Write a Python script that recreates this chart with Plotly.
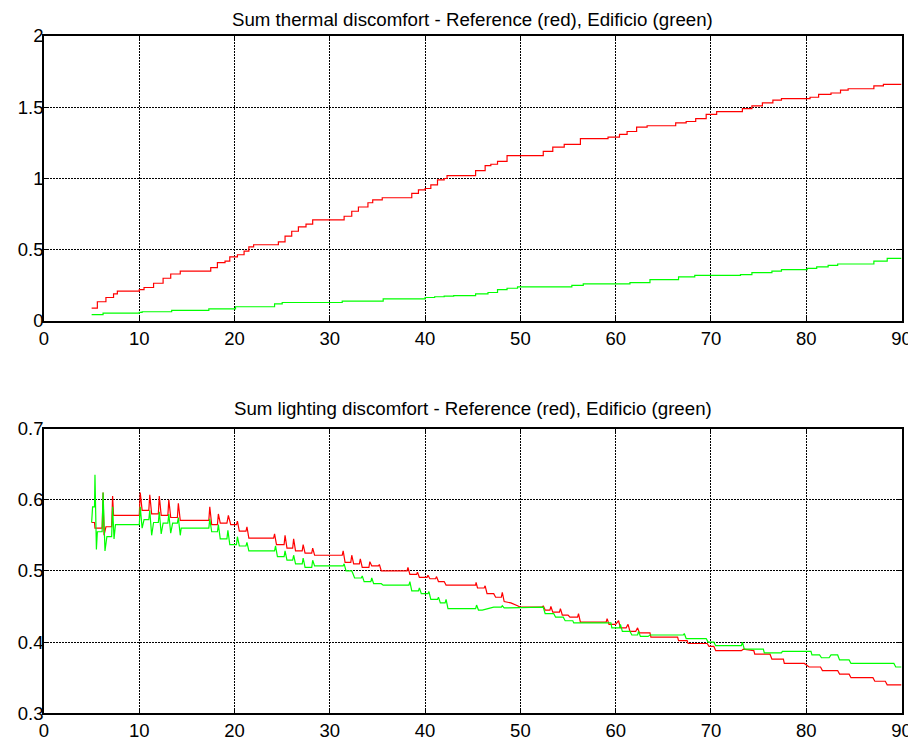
import plotly.graph_objects as go

# ---------------- data: top (thermal discomfort, cumulative steps) ----------------
thermal_ref_x = [5.0, 5.6, 6.5, 7.3, 7.7, 10.0, 10.5, 11.5, 12.5, 13.3, 14.3, 17.5, 18.2, 19.0, 19.5,
                 20.3, 21.0, 21.5, 22.0, 24.6, 25.3, 26.0, 26.7, 27.5, 28.2, 31.5, 32.3, 33.0, 34.0,
                 34.5, 35.5, 38.6, 39.3, 40.0, 40.6, 41.3, 42.0, 42.3, 45.3, 46.3, 46.9, 47.6, 48.6,
                 52.4, 53.4, 54.6, 56.3, 59.2, 60.4, 61.2, 62.2, 63.3, 66.3, 67.4, 68.4, 69.5, 70.6,
                 73.3, 74.3, 75.4, 76.5, 77.4, 80.4, 81.3, 82.6, 83.6, 84.4, 87.1, 88.1, 90.0]
thermal_ref_y = [0.09, 0.135, 0.165, 0.19, 0.21, 0.22, 0.235, 0.265, 0.30, 0.33, 0.35, 0.375, 0.41, 0.42, 0.45,
                 0.465, 0.49, 0.52, 0.535, 0.555, 0.595, 0.63, 0.66, 0.68, 0.71, 0.735, 0.77, 0.80, 0.83,
                 0.85, 0.865, 0.895, 0.92, 0.93, 0.955, 0.99, 1.0, 1.02, 1.055, 1.09, 1.10, 1.12, 1.16,
                 1.19, 1.22, 1.24, 1.28, 1.29, 1.31, 1.33, 1.36, 1.37, 1.39, 1.40, 1.42, 1.45, 1.47,
                 1.49, 1.51, 1.53, 1.55, 1.56, 1.57, 1.59, 1.60, 1.62, 1.63, 1.65, 1.66, 1.66]

thermal_bld_x = [5.0, 6.2, 10.0, 10.3, 13.4, 17.3, 20.1, 24.2, 25.0, 31.3, 35.6, 40.0, 41.0, 42.0, 43.0,
                 45.3, 46.6, 47.6, 48.6, 49.7, 55.4, 56.6, 61.5, 63.6, 66.6, 68.3, 73.1, 74.3, 76.4,
                 77.4, 80.1, 81.1, 82.3, 83.3, 87.1, 88.5, 90.0]
thermal_bld_y = [0.045, 0.055, 0.06, 0.065, 0.075, 0.085, 0.10, 0.12, 0.13, 0.14, 0.155, 0.165, 0.17, 0.175, 0.178,
                 0.19, 0.20, 0.22, 0.23, 0.24, 0.25, 0.26, 0.27, 0.29, 0.31, 0.32, 0.325, 0.34, 0.35,
                 0.36, 0.37, 0.38, 0.39, 0.40, 0.42, 0.44, 0.44]

# ---------------- data: bottom (lighting discomfort) ----------------
light_ref_x = [5.0, 5.3, 5.35, 6.1, 6.2, 6.3, 6.5, 7.1, 7.2, 7.3, 10.0, 10.1, 10.3, 11.0, 11.1, 11.3,
               12.0, 12.1, 12.3, 13.0, 13.1, 13.3, 14.0, 14.1, 14.3, 17.3, 17.4, 17.6, 18.2, 18.3, 18.5,
               19.2, 19.35, 19.6, 20.2, 20.3, 20.5, 21.2, 21.3, 21.5, 24.1, 24.2, 24.4, 25.2, 25.3, 25.5,
               26.1, 26.2, 26.4, 27.1, 27.2, 27.4, 28.1, 28.2, 28.4, 31.3, 31.4, 31.6, 32.2, 32.3, 32.5,
               33.1, 33.2, 33.4, 34.1, 34.2, 34.4, 35.1, 35.2, 35.4, 38.1, 38.2, 38.4, 39.1, 39.2, 39.4,
               40.2, 40.3, 40.5, 41.1, 41.2, 41.4, 42.0, 42.2, 45.3, 45.35, 45.5, 46.2, 46.3, 46.5, 47.2,
               47.4, 48.0, 48.1, 48.3, 49.0, 49.7, 50.0, 52.3, 52.4, 52.6, 53.1, 53.2, 53.4, 54.1, 54.2,
               54.4, 55.0, 55.2, 56.0, 56.1, 56.3, 59.0, 59.1, 59.3, 60.0, 60.3, 60.5, 61.1, 61.3, 61.5,
               62.1, 62.3, 62.5, 63.6, 63.7, 66.5, 66.6, 67.5, 67.6, 69.6, 69.8, 70.3, 70.5, 73.2, 73.4,
               74.5, 74.6, 76.2, 76.4, 77.6, 77.7, 79.8, 80.3, 81.5, 81.7, 83.3, 83.5, 84.5, 84.7, 87.0,
               87.2, 88.3, 88.5, 90.0]
light_ref_y = [0.568, 0.568, 0.56, 0.56, 0.61, 0.55, 0.562, 0.562, 0.605, 0.578, 0.578, 0.61, 0.585, 0.585, 0.607, 0.58,
               0.58, 0.605, 0.578, 0.578, 0.60, 0.575, 0.575, 0.595, 0.571, 0.571, 0.59, 0.565, 0.565, 0.58, 0.567,
               0.567, 0.578, 0.565, 0.565, 0.570, 0.556, 0.556, 0.562, 0.546, 0.546, 0.552, 0.537, 0.537, 0.550, 0.532,
               0.532, 0.545, 0.528, 0.528, 0.537, 0.525, 0.525, 0.532, 0.522, 0.522, 0.528, 0.512, 0.512, 0.522, 0.51,
               0.51, 0.517, 0.505, 0.505, 0.513, 0.507, 0.507, 0.509, 0.50, 0.50, 0.505, 0.495, 0.495, 0.498, 0.491,
               0.491, 0.494, 0.489, 0.489, 0.492, 0.485, 0.485, 0.48, 0.48, 0.484, 0.476, 0.476, 0.479, 0.468, 0.468,
               0.463, 0.463, 0.47, 0.457, 0.455, 0.451, 0.449, 0.449, 0.451, 0.445, 0.445, 0.45, 0.442, 0.442, 0.447,
               0.438, 0.438, 0.435, 0.435, 0.44, 0.428, 0.428, 0.433, 0.425, 0.425, 0.43, 0.42, 0.42, 0.425, 0.415,
               0.415, 0.42, 0.413, 0.413, 0.407, 0.407, 0.402, 0.402, 0.398, 0.398, 0.394, 0.394, 0.388, 0.388, 0.39,
               0.388, 0.383, 0.383, 0.376, 0.376, 0.37, 0.37, 0.365, 0.365, 0.36, 0.36, 0.355, 0.355, 0.35, 0.35,
               0.345, 0.345, 0.34, 0.34]

light_bld_x = [5.0, 5.1, 5.3, 5.35, 5.5, 5.6, 6.1, 6.2, 6.4, 6.6, 7.1, 7.2, 7.35, 7.5, 10.0, 10.1, 10.3, 10.5,
               11.0, 11.1, 11.3, 11.5, 12.0, 12.1, 12.3, 12.5, 13.0, 13.1, 13.3, 13.5, 14.0, 14.1, 14.3, 14.4,
               17.3, 17.4, 17.6, 18.2, 18.3, 18.5, 19.2, 19.3, 19.5, 20.2, 20.3, 20.5, 21.2, 21.3, 21.5,
               24.2, 24.3, 24.5, 25.2, 25.3, 25.5, 26.1, 26.2, 26.4, 27.1, 27.2, 27.4, 28.1, 28.2, 28.4,
               31.4, 31.5, 31.7, 32.3, 32.4, 32.6, 33.3, 33.4, 33.6, 34.3, 34.4, 34.6, 35.4, 35.6, 38.3,
               38.4, 38.6, 39.3, 39.4, 39.6, 40.3, 40.4, 40.6, 41.3, 41.4, 41.6, 42.1, 42.2, 42.4, 45.3,
               45.4, 45.6, 46.0, 46.5, 47.2, 48.0, 48.1, 48.3, 52.3, 52.4, 52.6, 53.5, 53.7, 54.5, 54.7,
               55.5, 55.6, 59.5, 59.6, 60.4, 60.5, 60.7, 61.5, 61.7, 62.3, 62.4, 62.6, 63.4, 63.6, 67.1,
               67.2, 67.4, 69.5, 69.7, 70.3, 70.5, 73.2, 73.3, 73.5, 75.5, 75.6, 77.4, 77.5, 80.5, 80.6,
               81.4, 81.6, 82.4, 82.6, 83.3, 83.5, 84.5, 84.7, 89.2, 89.4, 90.0]
light_bld_y = [0.568, 0.59, 0.59, 0.635, 0.53, 0.555, 0.555, 0.61, 0.528, 0.548, 0.548, 0.59, 0.545, 0.565, 0.565, 0.59, 0.56, 0.572,
               0.572, 0.585, 0.55, 0.568, 0.568, 0.583, 0.552, 0.567, 0.567, 0.58, 0.553, 0.567, 0.567, 0.575, 0.55, 0.56,
               0.56, 0.573, 0.555, 0.555, 0.565, 0.545, 0.545, 0.557, 0.537, 0.537, 0.548, 0.535, 0.535, 0.54, 0.528,
               0.528, 0.535, 0.52, 0.52, 0.528, 0.515, 0.515, 0.522, 0.51, 0.51, 0.518, 0.505, 0.505, 0.515, 0.507,
               0.507, 0.51, 0.50, 0.50, 0.497, 0.49, 0.49, 0.493, 0.485, 0.485, 0.49, 0.482, 0.482, 0.48, 0.48,
               0.485, 0.472, 0.472, 0.476, 0.468, 0.468, 0.471, 0.46, 0.46, 0.463, 0.455, 0.455, 0.46, 0.447, 0.447,
               0.452, 0.445, 0.445, 0.447, 0.449, 0.449, 0.451, 0.448, 0.448, 0.449, 0.44, 0.44, 0.435, 0.435, 0.43,
               0.43, 0.427, 0.427, 0.42, 0.42, 0.425, 0.415, 0.415, 0.41, 0.41, 0.415, 0.408, 0.408, 0.41, 0.41,
               0.412, 0.405, 0.405, 0.40, 0.40, 0.395, 0.395, 0.40, 0.39, 0.39, 0.385, 0.385, 0.387, 0.387, 0.382,
               0.382, 0.378, 0.378, 0.382, 0.382, 0.375, 0.375, 0.37, 0.37, 0.365, 0.365]

x_ticks = [0, 10, 20, 30, 40, 50, 60, 70, 80, 90]
top_y_ticks = [0, 0.5, 1, 1.5, 2]
top_y_labels = ["0", "0.5", "1", "1.5", "2"]
bot_y_ticks = [0.3, 0.4, 0.5, 0.6, 0.7]
bot_y_labels = ["0.3", "0.4", "0.5", "0.6", "0.7"]
top_title = "Sum thermal discomfort - Reference (red), Edificio (green)"
bot_title = "Sum lighting discomfort - Reference (red), Edificio (green)"

W, H = 916, 744
OFF = 8  # page body margin offset of the plot div
x0, x1 = 44 - OFF, 901.5 - OFF
top_px = (36 - OFF, 321 - OFF)
bot_px = (428.5 - OFF, 713.3 - OFF)
top_title_y = 19.5 - OFF
bot_title_y = 408 - OFF

RED = "#ff0000"
GREEN = "#00ff00"
FONT = "Liberation Sans, Arial, sans-serif"
FS = 18.5

fig = go.Figure()
fig.add_trace(go.Scatter(x=thermal_ref_x, y=thermal_ref_y, mode="lines", line=dict(color=RED, width=1.2, shape="hv"),
                         xaxis="x", yaxis="y", showlegend=False))
fig.add_trace(go.Scatter(x=thermal_bld_x, y=thermal_bld_y, mode="lines", line=dict(color=GREEN, width=1.2, shape="hv"),
                         xaxis="x", yaxis="y", showlegend=False))
fig.add_trace(go.Scatter(x=light_ref_x, y=light_ref_y, mode="lines", line=dict(color=RED, width=1.2),
                         xaxis="x2", yaxis="y2", showlegend=False))
fig.add_trace(go.Scatter(x=light_bld_x, y=light_bld_y, mode="lines", line=dict(color=GREEN, width=1.2),
                         xaxis="x2", yaxis="y2", showlegend=False))

axis_common = dict(showline=True, linecolor="black", linewidth=1.5, mirror="ticks",
                   ticks="inside", ticklen=5, tickcolor="black", tickwidth=1,
                   showgrid=True, gridcolor="black", griddash="2px,1px", gridwidth=1,
                   zeroline=False, automargin=False,
                   tickfont=dict(family=FONT, size=FS, color="black"))

fig.update_layout(
    width=W, height=H,
    margin=dict(l=0, r=0, t=0, b=0),
    paper_bgcolor="white", plot_bgcolor="white",
    xaxis=dict(domain=[x0 / W, x1 / W], range=[0, 90], tickvals=x_ticks, anchor="y", **axis_common),
    yaxis=dict(domain=[1 - top_px[1] / H, 1 - top_px[0] / H], range=[0, 2], tickvals=top_y_ticks,
               ticktext=top_y_labels, anchor="x", ticklabelstandoff=-5, **axis_common),
    xaxis2=dict(domain=[x0 / W, x1 / W], range=[0, 90], tickvals=x_ticks, anchor="y2", **axis_common),
    yaxis2=dict(domain=[1 - bot_px[1] / H, 1 - bot_px[0] / H], range=[0.3, 0.7], tickvals=bot_y_ticks,
                ticktext=bot_y_labels, anchor="x2", ticklabelstandoff=-5, **axis_common),
    annotations=[
        dict(text=top_title, x=(x0 + x1) / 2 / W, y=1 - top_title_y / H, xref="paper", yref="paper",
             xanchor="center", yanchor="middle", showarrow=False, borderpad=0,
             font=dict(family=FONT, size=18.7, color="black")),
        dict(text=bot_title, x=(x0 + x1) / 2 / W, y=1 - bot_title_y / H, xref="paper", yref="paper",
             xanchor="center", yanchor="middle", showarrow=False, borderpad=0,
             font=dict(family=FONT, size=18.7, color="black")),
    ],
)

fig.write_html("out.html")
